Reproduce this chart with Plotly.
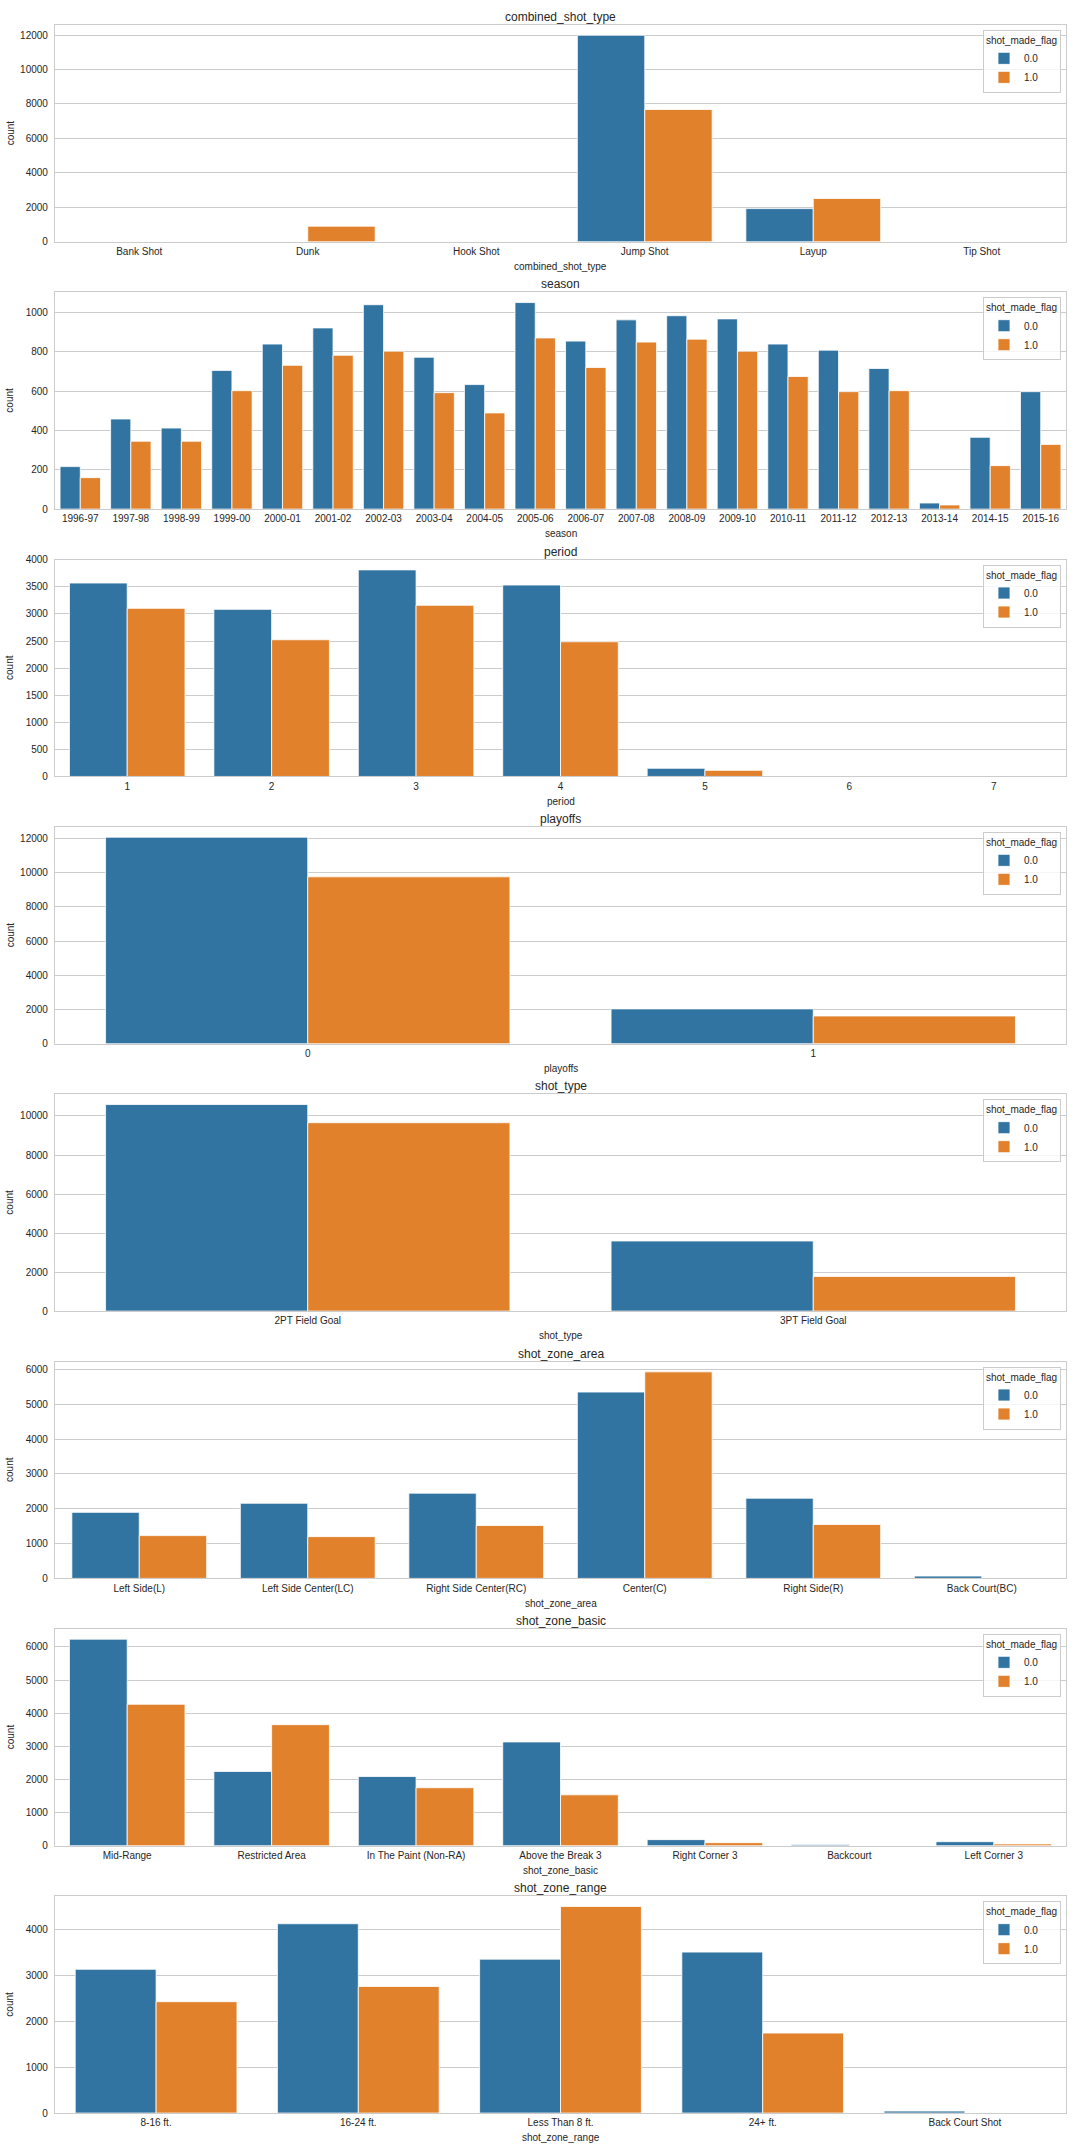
import plotly.graph_objects as go

# ---------------- data ----------------
hue_levels = ["0.0", "1.0"]

combined_shot_type_cats = ["Bank Shot", "Dunk", "Hook Shot", "Jump Shot", "Layup", "Tip Shot"]
combined_shot_type_0 = [0, 0, 0, 11990, 1925, 0]
combined_shot_type_1 = [0, 905, 0, 7680, 2515, 0]

season_cats = ["1996-97", "1997-98", "1998-99", "1999-00", "2000-01", "2001-02", "2002-03",
               "2003-04", "2004-05", "2005-06", "2006-07", "2007-08", "2008-09", "2009-10",
               "2010-11", "2011-12", "2012-13", "2013-14", "2014-15", "2015-16"]
season_0 = [216, 458, 412, 705, 839, 921, 1039, 772, 633, 1050, 854, 962, 983, 967,
            839, 808, 715, 31, 365, 597]
season_1 = [160, 345, 345, 602, 731, 782, 803, 592, 489, 870, 720, 849, 864, 803,
            674, 597, 602, 21, 221, 329]

period_cats = ["1", "2", "3", "4", "5", "6", "7"]
period_0 = [3570, 3084, 3813, 3533, 150, 0, 0]
period_1 = [3103, 2523, 3159, 2486, 112, 0, 0]

playoffs_cats = ["0", "1"]
playoffs_0 = [12079, 2040]
playoffs_1 = [9762, 1624]

shot_type_cats = ["2PT Field Goal", "3PT Field Goal"]
shot_type_0 = [10587, 3592]
shot_type_1 = [9655, 1779]

shot_zone_area_cats = ["Left Side(L)", "Left Side Center(LC)", "Right Side Center(RC)",
                       "Center(C)", "Right Side(R)", "Back Court(BC)"]
shot_zone_area_0 = [1897, 2158, 2448, 5352, 2303, 68]
shot_zone_area_1 = [1229, 1200, 1519, 5932, 1548, 0]

shot_zone_basic_cats = ["Mid-Range", "Restricted Area", "In The Paint (Non-RA)",
                        "Above the Break 3", "Right Corner 3", "Backcourt", "Left Corner 3"]
shot_zone_basic_0 = [6235, 2242, 2089, 3133, 184, 35, 122]
shot_zone_basic_1 = [4270, 3655, 1751, 1536, 92, 0, 55]

shot_zone_range_cats = ["8-16 ft.", "16-24 ft.", "Less Than 8 ft.", "24+ ft.", "Back Court Shot"]
shot_zone_range_0 = [3132, 4125, 3353, 3507, 44]
shot_zone_range_1 = [2426, 2757, 4500, 1743, 0]

tick_steps = [2000, 200, 500, 2000, 2000, 1000, 1000, 1000]

panels = [
    ("combined_shot_type", combined_shot_type_cats, combined_shot_type_0, combined_shot_type_1),
    ("season", season_cats, season_0, season_1),
    ("period", period_cats, period_0, period_1),
    ("playoffs", playoffs_cats, playoffs_0, playoffs_1),
    ("shot_type", shot_type_cats, shot_type_0, shot_type_1),
    ("shot_zone_area", shot_zone_area_cats, shot_zone_area_0, shot_zone_area_1),
    ("shot_zone_basic", shot_zone_basic_cats, shot_zone_basic_0, shot_zone_basic_1),
    ("shot_zone_range", shot_zone_range_cats, shot_zone_range_0, shot_zone_range_1),
]

# ---------------- style ----------------
W, H = 1072, 2152
BLUE = "#3274a1"
ORANGE = "#e1812c"
GRID = "#cccccc"
TXT = "#262626"
FONT = "Liberation Sans, Arial, sans-serif"

x_left, x_right = 55, 1066
first_top, step, ax_h = 20, 268.7, 218

fig = go.Figure()
layout = dict(
    width=W, height=H,
    margin=dict(l=0, r=0, t=0, b=0),
    paper_bgcolor="white", plot_bgcolor="white",
    barmode="group", bargap=0.2, bargroupgap=0,
    font=dict(family=FONT, size=10, color=TXT),
    showlegend=True,
)
annotations = []

for i, (name, cats, v0, v1) in enumerate(panels):
    k = i + 1
    xa = "x" if k == 1 else f"x{k}"
    ya = "y" if k == 1 else f"y{k}"
    leg = "legend" if k == 1 else f"legend{k}"
    top = first_top + i * step
    bot = top + ax_h
    for lvl, vals, col in ((hue_levels[0], v0, BLUE), (hue_levels[1], v1, ORANGE)):
        fig.add_trace(go.Bar(
            x=cats, y=vals, name=lvl, xaxis=xa, yaxis=ya, legend=leg,
            marker=dict(color=col, line=dict(color="white", width=0.8)),
            hovertemplate=f"{name}=%{{x}}<br>shot_made_flag={lvl}<br>count=%{{y}}<extra></extra>",
        ))
    ymax = max(max(v0), max(v1)) * 1.05
    xkey = "xaxis" if k == 1 else f"xaxis{k}"
    ykey = "yaxis" if k == 1 else f"yaxis{k}"
    layout[xkey] = dict(
        domain=[x_left / W, x_right / W], anchor=ya,
        type="category", categoryorder="array", categoryarray=cats,
        range=[-0.5, len(cats) - 0.5],
        showline=True, mirror=True, linecolor=GRID, linewidth=1.2,
        showgrid=False, ticks="", tickfont=dict(size=10, color=TXT),
        zeroline=False, fixedrange=True,
    )
    layout[ykey] = dict(
        domain=[1 - bot / H, 1 - top / H], anchor=xa,
        range=[0, ymax], dtick=tick_steps[i], tick0=0, tickformat="d",
        showline=True, mirror=True, linecolor=GRID, linewidth=1.2,
        showgrid=True, gridcolor=GRID, gridwidth=1, zeroline=False,
        ticks="", tickfont=dict(size=10, color=TXT), ticklabelstandoff=4,
        fixedrange=True,
    )
    layout[leg] = dict(
        x=1061 / W, y=1 - (top + 5) / H, xanchor="right", yanchor="top",
        xref="paper", yref="paper",
        title=dict(text="shot_made_flag", side="top", font=dict(size=10, color=TXT)),
        font=dict(size=10, color=TXT),
        bgcolor="rgba(255,255,255,0.8)", bordercolor=GRID, borderwidth=1,
        itemwidth=30, tracegroupgap=0,
    )
    xc = (x_left + x_right) / 2 / W
    annotations.append(dict(text=name, x=xc, y=1 - (top - 8) / H, xref="paper", yref="paper",
                            showarrow=False, font=dict(size=12, color=TXT),
                            xanchor="center", yanchor="middle"))
    annotations.append(dict(text=name, x=xc, y=1 - (bot + 25) / H, xref="paper", yref="paper",
                            showarrow=False, font=dict(size=10, color=TXT),
                            xanchor="center", yanchor="middle"))
    annotations.append(dict(text="count", x=10 / W, y=1 - (top + bot) / 2 / H, xref="paper",
                            yref="paper", showarrow=False, textangle=-90,
                            font=dict(size=10, color=TXT), xanchor="center", yanchor="middle"))

layout["annotations"] = annotations
fig.update_layout(**layout)
fig.write_html("out.html", config={"displayModeBar": False},
               post_script="document.body.style.margin='0';")
